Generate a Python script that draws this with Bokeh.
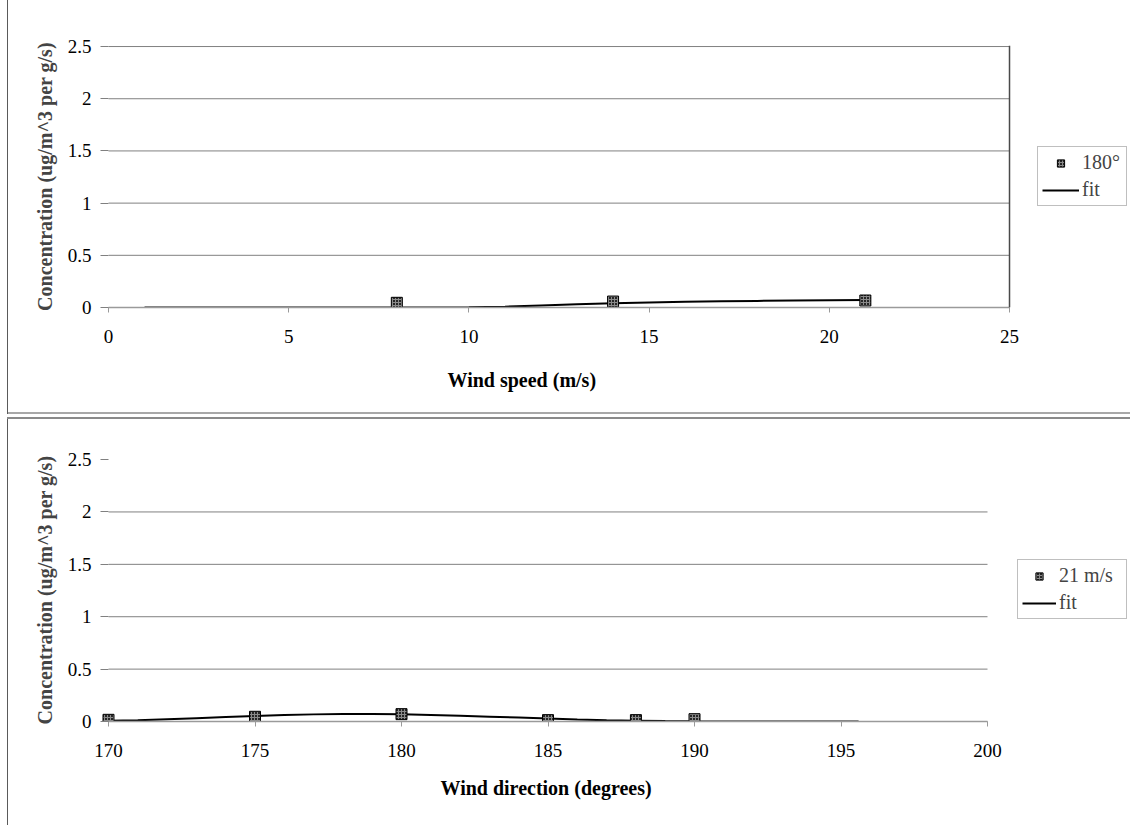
from bokeh.plotting import figure
from bokeh.layouts import column
from bokeh.models import Range1d, FixedTicker, Span, Legend, LegendItem, Title
from bokeh.embed import file_html
from bokeh.resources import INLINE

# ---- data ----
speed_obs_x = [8, 14, 21]
speed_obs_y = [0.045, 0.057, 0.067]
speed_fit_x = [1, 2, 3, 4, 5, 6, 7, 8, 9, 10, 11, 12, 13, 14, 15, 16, 17, 18, 19, 20, 21]
speed_fit_y = [0, 0, 0, 0, 0, 0, 0, 0, 0, 0.002, 0.008, 0.02, 0.032, 0.041, 0.048,
               0.054, 0.059, 0.063, 0.067, 0.07, 0.072]

dir_obs_x = [170, 175, 180, 185, 188, 190]
dir_obs_y = [0.016, 0.045, 0.07, 0.013, 0.013, 0.022]
dir_fit_x = [170, 171, 172, 173, 174, 175, 176, 177, 178, 179, 180, 181, 182, 183,
             184, 185, 186, 187, 188, 189, 190, 191, 192, 193, 194, 195, 195.6]
dir_fit_y = [0.006, 0.012, 0.022, 0.032, 0.042, 0.052, 0.061, 0.068, 0.072, 0.072,
             0.069, 0.063, 0.055, 0.046, 0.037, 0.028, 0.02, 0.013, 0.008, 0.004,
             0.002, 0.001, 0, 0, 0, 0, 0]

y_tick_values = [0, 0.5, 1, 1.5, 2, 2.5]
y_tick_labels = ["0", "0.5", "1", "1.5", "2", "2.5"]
speed_ticks = [0, 5, 10, 15, 20, 25]
dir_ticks = [170, 175, 180, 185, 190, 195, 200]

y_title = "Concentration (ug/m^3 per g/s)"
speed_title = "Wind speed (m/s)"
dir_title = "Wind direction (degrees)"
speed_label = "180\u00b0"
dir_label = "21 m/s"

FONT = "Liberation Serif"
GRID = "#808080"


def make_chart(xr, xticks, ox, oy, fx, fy, xtitle, obs_label, height,
               top, bottom, grid_ticks, title_offset, title_standoff,
               legend_loc, glyph_w, label_w):
    p = figure(width=1130, height=height, output_backend="svg", toolbar_location=None,
               x_range=Range1d(*xr), y_range=Range1d(0, 2.51),
               min_border_left=100, min_border_right=0,
               min_border_top=top, min_border_bottom=bottom)
    p.border_fill_color = None
    p.background_fill_color = None
    p.outline_line_color = None

    p.xgrid.visible = False
    p.ygrid.visible = False
    n = len(grid_ticks)
    p.segment(x0=[xticks[0]] * n, x1=[xticks[-1]] * n, y0=grid_ticks, y1=grid_ticks,
              line_color=GRID, line_width=1, level="underlay")

    xa = p.xaxis[0]
    xa.ticker = FixedTicker(ticks=xticks)
    xa.bounds = (xticks[0], xticks[-1])
    xa.axis_line_color = "#9a9a9a"
    xa.axis_line_width = 1.5
    xa.major_tick_line_color = "#9a9a9a"
    xa.major_tick_out = 5
    xa.major_tick_in = 0
    xa.minor_tick_line_color = None
    xa.major_label_standoff = 17
    xa.major_label_text_font = FONT
    xa.major_label_text_font_size = "19px"
    xa.major_label_text_color = "#000000"

    ya = p.yaxis[0]
    ya.ticker = FixedTicker(ticks=y_tick_values)
    ya.major_label_overrides = dict(zip(y_tick_values, y_tick_labels))
    ya.axis_line_color = None
    ya.major_tick_line_color = GRID
    ya.major_tick_out = 0
    ya.major_tick_in = 8
    ya.minor_tick_line_color = None
    ya.major_label_standoff = 9
    ya.major_label_text_font = FONT
    ya.major_label_text_font_size = "19px"
    ya.major_label_text_color = "#000000"
    ya.axis_label = y_title
    ya.axis_label_text_font = FONT
    ya.axis_label_text_font_style = "bold"
    ya.axis_label_text_font_size = "20px"
    ya.axis_label_standoff = 9

    t = Title(text=xtitle, align="left", offset=title_offset, vertical_align="top",
              standoff=title_standoff, text_font=FONT, text_font_style="bold",
              text_font_size="20px", text_color="#000000")
    p.add_layout(t, "below")

    r_fit = p.line(fx, fy, line_color="#000000", line_width=2)
    r_obs = p.scatter(ox, oy, marker="square", size=11, fill_color="#262626",
                      line_color="#000000", line_width=1,
                      hatch_pattern="+", hatch_color="#8a8a8a", hatch_scale=3,
                      hatch_weight=1)

    legend = Legend(items=[LegendItem(label=obs_label, renderers=[r_obs]),
                           LegendItem(label="fit", renderers=[r_fit])],
                    location=legend_loc)
    legend.label_text_font = FONT
    legend.label_text_font_size = "20px"
    legend.border_line_color = "#808080"
    legend.border_line_width = 1
    legend.background_fill_color = "#ffffff"
    legend.background_fill_alpha = 1
    legend.padding = 4
    legend.spacing = 4
    legend.glyph_width = glyph_w
    legend.glyph_height = 18
    legend.label_height = 18
    legend.label_width = label_w
    legend.label_standoff = 3
    legend.margin = 0
    p.add_layout(legend)
    return p


# frame spans from x=100 to the right edge; value ranges place the ticks where the reference has them
p1 = make_chart((-0.222, 28.357), speed_ticks, speed_obs_x, speed_obs_y, speed_fit_x, speed_fit_y,
                speed_title, speed_label, 415, 45, 107,
                [0, 0.5, 1, 1.5, 2, 2.5], 347, 46, (937, 101), 37, 40)
p1.add_layout(Span(location=speed_ticks[-1], dimension="height",
                   line_color="#4a4a4a", line_width=1.5))

p2 = make_chart((169.727, 204.88), dir_ticks, dir_obs_x, dir_obs_y, dir_fit_x, dir_fit_y,
                dir_title, dir_label, 410, 43, 104,
                [0, 0.5, 1, 1.5, 2], 340, 35, (917, 102), 34, 63)

layout = column(p1, p2, spacing=0)
layout.styles = {
    "background-color": "#ffffff",
    "background-image": ", ".join([
        "linear-gradient(#5a5a5a, #5a5a5a)",
        "linear-gradient(#a8a8a8, #a8a8a8)",
        "linear-gradient(#8a8a8a, #8a8a8a)",
        "linear-gradient(#5a5a5a, #5a5a5a)",
    ]),
    "background-size": "1px 414px, 1123px 2px, 1123px 2px, 1px 408px",
    "background-position": "7px 0px, 7px 412px, 7px 417px, 7px 417px",
    "background-repeat": "no-repeat",
}

open("out.html", "w").write(file_html(layout, INLINE))
